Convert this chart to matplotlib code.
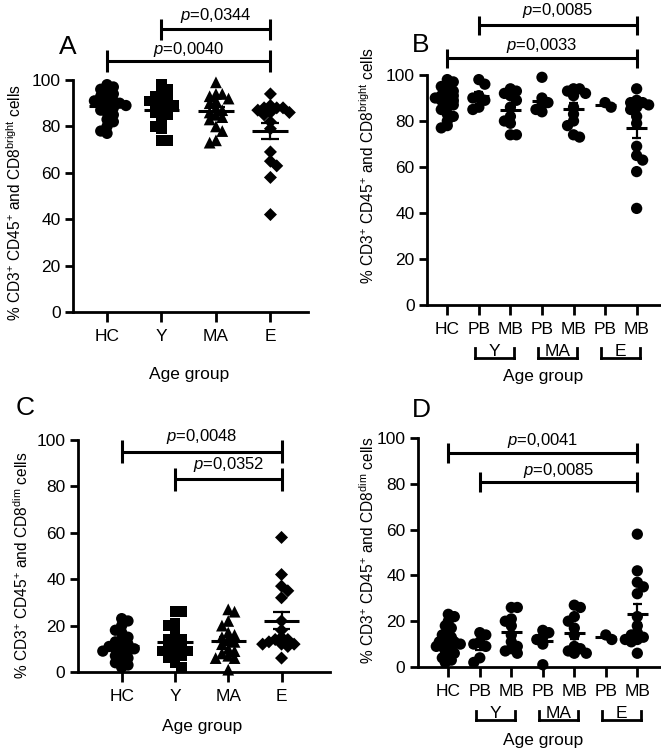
import matplotlib
matplotlib.use('Agg')
import matplotlib.pyplot as plt
import numpy as np
from matplotlib import transforms

plt.rcParams['font.family'] = ['Liberation Sans', 'DejaVu Sans']
plt.rcParams['mathtext.fontset'] = 'custom'
plt.rcParams['mathtext.rm'] = 'Liberation Sans'
plt.rcParams['mathtext.it'] = 'Liberation Sans:italic'
plt.rcParams['mathtext.bf'] = 'Liberation Sans:bold'

# ---------------- data ----------------
hc_bright = [98, 97, 96, 95, 94, 93, 92, 91, 91, 90, 90, 89, 89, 88, 87, 86, 85, 83, 82, 80, 78, 77]
hc_dim = [2, 3, 4, 5, 6, 7, 8, 9, 9, 10, 10, 11, 11, 12, 13, 14, 15, 17, 18, 20, 22, 23]
y_pb_bright = [98, 96, 91, 90, 89, 86, 85]
y_pb_dim = [2, 4, 9, 10, 11, 14, 15]
y_mb_bright = [94, 93, 92, 91, 89, 86, 82, 80, 79, 74, 74]
y_mb_dim = [6, 7, 8, 9, 11, 14, 18, 20, 21, 26, 26]
ma_pb_bright = [99, 90, 88, 87, 85, 84]
ma_pb_dim = [1, 10, 12, 13, 15, 16]
ma_mb_bright = [94, 94, 93, 92, 91, 86, 83, 80, 78, 74, 73]
ma_mb_dim = [6, 6, 7, 8, 9, 14, 17, 20, 22, 26, 27]
e_pb_bright = [86, 88]
e_pb_dim = [14, 12]
e_mb_bright = [94, 89, 88, 88, 87, 86, 85, 82, 79, 69, 65, 63, 58, 42]
e_mb_dim = [6, 11, 12, 12, 13, 14, 15, 18, 22, 32, 35, 37, 42, 58]

age_groups = ['HC', 'Y', 'MA', 'E']
sub_labels = ['HC', 'PB', 'MB', 'PB', 'MB', 'PB', 'MB']
bracket_groups = ['Y', 'MA', 'E']
yticks = [0, 20, 40, 60, 80, 100]

pvals_A = [('0,0040', 0, 3), ('0,0344', 1, 3)]
pvals_B = [('0,0033', 0, 6), ('0,0085', 1, 6)]
pvals_C = [('0,0048', 0, 3), ('0,0352', 1, 3)]
pvals_D = [('0,0041', 0, 6), ('0,0085', 1, 6)]

# ---------------- layout ----------------
W, H = 661, 752
fig = plt.figure(figsize=(W / 100, H / 100), dpi=100)

TICK_FS = 12.5
LAB_FS = 12.5
P_FS = 12
YL_FS = 11.2
LET_FS = 19


def px_axes(l, r, top, bottom):
    return fig.add_axes([l / W, 1 - bottom / H, (r - l) / W, (bottom - top) / H])


def style(ax, xlim, labels):
    ax.set_ylim(0, 100)
    ax.set_xlim(*xlim)
    for s in ['top', 'right']:
        ax.spines[s].set_visible(False)
    for s in ['left', 'bottom']:
        ax.spines[s].set_linewidth(2.0)
    ax.set_yticks(yticks)
    ax.set_yticklabels([str(t) for t in yticks], fontsize=TICK_FS)
    ax.set_xticks(range(len(labels)))
    ax.set_xticklabels(labels, fontsize=TICK_FS)
    ax.tick_params(axis='y', length=6, width=2, pad=3)
    ax.tick_params(axis='x', length=7, width=2, pad=5)


def swarm(vals, diam_px, sx, sy, tight=0.55):
    vals = np.asarray(vals, float)
    order = np.argsort(-vals, kind='stable')
    placed = []
    offs = np.zeros(len(vals))
    step = diam_px * 0.3
    mind = diam_px * tight
    side = 1
    for i in order:
        yp = vals[i] * sy
        chosen = None
        for k in range(0, 60):
            cands = [0.0] if k == 0 else [side * k * step, -side * k * step]
            for c in cands:
                if all((c - px) ** 2 + (yp - py) ** 2 >= mind ** 2 for px, py in placed):
                    chosen = c
                    break
            if chosen is not None:
                break
        if chosen != 0:
            side = -side
        placed.append((chosen, yp))
        offs[i] = chosen / sx
    return offs


def draw_group(ax, pos, vals, marker, ms, diam_px, sx, sy, mean_hw, cap_hw, tight=0.55):
    vals = np.asarray(vals, float)
    offs = swarm(vals, diam_px, sx, sy, tight)
    ax.scatter(pos + offs, vals, marker=marker, s=ms, color='black',
               edgecolors='none', clip_on=False, zorder=3)
    m = vals.mean()
    sem = vals.std(ddof=1) / np.sqrt(len(vals)) if len(vals) > 1 else 0
    ax.plot([pos - mean_hw, pos + mean_hw], [m, m], color='black', lw=2.2, zorder=4,
            solid_capstyle='butt')
    if len(vals) > 2:
        ax.plot([pos, pos], [m - sem, m + sem], color='black', lw=1.6, zorder=4)
        for yy in (m - sem, m + sem):
            ax.plot([pos - cap_hw, pos + cap_hw], [yy, yy], color='black', lw=1.6,
                    zorder=4, solid_capstyle='butt')


def pbracket(ax, x1, x2, y, th, text, ty):
    kw = dict(color='black', lw=2.2, clip_on=False, solid_capstyle='butt')
    ax.plot([x1, x2], [y, y], **kw)
    ax.plot([x1, x1], [y - th, y + th], **kw)
    ax.plot([x2, x2], [y - th, y + th], **kw)
    ax.text((x1 + x2) / 2, ty, r'$\it{p}$=' + text, ha='center', va='baseline',
            fontsize=P_FS, clip_on=False)


def group_brackets(ax, ybot, ytop):
    tr = transforms.blended_transform_factory(ax.transData, fig.transFigure)
    yb, yt = 1 - ybot / H, 1 - ytop / H
    for j, g in enumerate(bracket_groups):
        a, b = 2 * j + 1 - 0.12, 2 * j + 2 + 0.12
        kw = dict(color='black', lw=2, transform=tr, clip_on=False)
        ax.plot([a, b], [yb, yb], **kw)
        ax.plot([a, a], [yb, yt], **kw)
        ax.plot([b, b], [yb, yt], **kw)
        ax.text((a + b) / 2, yb + 1.5 / H, g, ha='center', va='baseline',
                fontsize=TICK_FS, transform=tr)


ylab_bright = r'% CD3$^{+}$ CD45$^{+}$ and CD8$^{\mathrm{bright}}$ cells'
ylab_dim = r'% CD3$^{+}$ CD45$^{+}$ and CD8$^{\mathrm{dim}}$ cells'

markers4 = ['o', 's', '^', 'D']
sizes4 = [66, 60, 72, 44]

# ---------------- panel A ----------------
axA = px_axes(73, 308, 80, 312)
style(axA, (-0.625, 3.69), age_groups)
sxA, syA = 54.4, 2.32
groupsA = [hc_bright, y_pb_bright + y_mb_bright, ma_pb_bright + ma_mb_bright,
           e_pb_bright + e_mb_bright]
for i, v in enumerate(groupsA):
    draw_group(axA, i, v, markers4[i], sizes4[i], 10.5, sxA, syA, 0.33, 0.165)
pbracket(axA, 0, 3, 108.2, 4.6, pvals_A[0][0], 111.2)
pbracket(axA, 1, 3, 121.8, 4.6, pvals_A[1][0], 126.0)

# ---------------- panel B ----------------
axB = px_axes(427, 660, 75, 305)
style(axB, (-0.643, 6.74), sub_labels)
sxB, syB = 31.57, 2.30
groupsB = [hc_bright, y_pb_bright, y_mb_bright, ma_pb_bright, ma_mb_bright,
           e_pb_bright, e_mb_bright]
for i, v in enumerate(groupsB):
    draw_group(axB, i, v, 'o', 66, 10.0, sxB, syB, 0.33, 0.14,
               tight=0.42 if i == 0 else 0.55)
pbracket(axB, 0, 6, 107.3, 4.1, pvals_B[0][0], 110.9)
pbracket(axB, 1, 6, 121.7, 4.1, pvals_B[1][0], 126.0)
group_brackets(axB, 358, 348)

# ---------------- panel C ----------------
axC = px_axes(78, 330, 440, 672)
style(axC, (-0.82, 3.91), age_groups)
sxC, syC = 53.3, 2.32
groupsC = [hc_dim, y_pb_dim + y_mb_dim, ma_pb_dim + ma_mb_dim, e_pb_dim + e_mb_dim]
for i, v in enumerate(groupsC):
    draw_group(axC, i, v, markers4[i], sizes4[i], 10.5, sxC, syC, 0.33, 0.165)
pbracket(axC, 0, 3, 95.0, 5.0, pvals_C[0][0], 99.6)
pbracket(axC, 1, 3, 83.0, 5.0, pvals_C[1][0], 87.4)

# ---------------- panel D ----------------
axD = px_axes(418, 660, 438, 667)
style(axD, (-0.962, 6.72), sub_labels)
sxD, syD = 31.5, 2.29
groupsD = [hc_dim, y_pb_dim, y_mb_dim, ma_pb_dim, ma_mb_dim, e_pb_dim, e_mb_dim]
for i, v in enumerate(groupsD):
    draw_group(axD, i, v, 'o', 66, 10.0, sxD, syD, 0.33, 0.14,
               tight=0.5 if i == 0 else 0.55)
pbracket(axD, 0, 6, 93.3, 4.4, pvals_D[0][0], 96.9)
pbracket(axD, 1, 6, 80.7, 4.4, pvals_D[1][0], 83.8)
group_brackets(axD, 720, 711)

# ---------------- texts ----------------
def ftext(x, y, s, **kw):
    fig.text(x / W, 1 - y / H, s, **kw)

ftext(15, 203, ylab_bright, rotation=90, ha='center', va='center', fontsize=YL_FS)
ftext(368, 166, ylab_bright, rotation=90, ha='center', va='center', fontsize=YL_FS)
ftext(22, 565, ylab_dim, rotation=90, ha='center', va='center', fontsize=YL_FS)
ftext(368, 550, ylab_dim, rotation=90, ha='center', va='center', fontsize=YL_FS)

ftext(189, 375, 'Age group', ha='center', va='center', fontsize=LAB_FS)
ftext(543, 377, 'Age group', ha='center', va='center', fontsize=LAB_FS)
ftext(202, 727, 'Age group', ha='center', va='center', fontsize=LAB_FS)
ftext(543, 741, 'Age group', ha='center', va='center', fontsize=LAB_FS)

ftext(67.5, 47.5, 'A', ha='center', va='center', fontsize=LET_FS)
ftext(421, 45, 'B', ha='center', va='center', fontsize=LET_FS)
ftext(25.5, 408, 'C', ha='center', va='center', fontsize=LET_FS)
ftext(421, 410, 'D', ha='center', va='center', fontsize=LET_FS)

fig.savefig('out.png', dpi=100, facecolor='white')
